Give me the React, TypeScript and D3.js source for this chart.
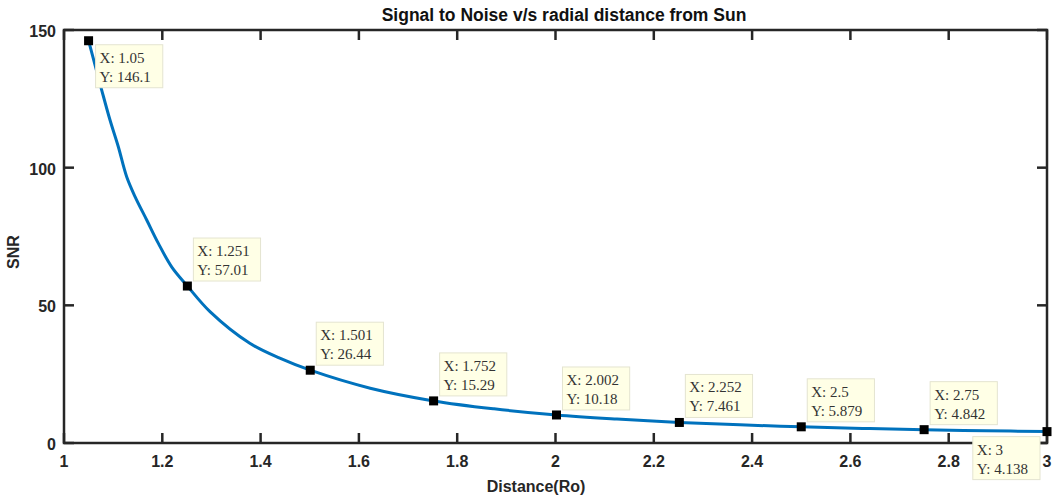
import React from "react";
import * as d3 from "d3";

const curveX = [1.05, 1.0767, 1.0936, 1.1105, 1.1275, 1.1445, 1.1683, 1.192, 1.219, 1.251, 1.297, 1.378, 1.439, 1.501, 1.623, 1.752, 1.875, 2.002, 2.125, 2.252, 2.375, 2.5, 2.625, 2.75, 2.875, 3.0];
const curveY = [146.1, 128.2, 117.3, 107.6, 96.7, 89.5, 81.0, 72.5, 64.0, 57.01, 47.7, 36.2, 30.8, 26.44, 19.9, 15.29, 12.4, 10.18, 8.7, 7.461, 6.6, 5.879, 5.3, 4.842, 4.45, 4.138];

const tipX = [1.05, 1.251, 1.501, 1.752, 2.002, 2.252, 2.5, 2.75, 3];
const tipXLabel = ["1.05", "1.251", "1.501", "1.752", "2.002", "2.252", "2.5", "2.75", "3"];
const tipY = [146.1, 57.01, 26.44, 15.29, 10.18, 7.461, 5.879, 4.842, 4.138];
const tipYLabel = ["146.1", "57.01", "26.44", "15.29", "10.18", "7.461", "5.879", "4.842", "4.138"];

const xTicks = [1, 1.2, 1.4, 1.6, 1.8, 2, 2.2, 2.4, 2.6, 2.8, 3];
const yTicks = [0, 50, 100, 150];

const title = "Signal to Noise v/s radial distance from Sun";
const xLabel = "Distance(Ro)";
const yLabel = "SNR";

export default function App() {
  const W = 1057, H = 497;
  const L = 64, R = 1047, T = 30, B = 443;
  const x = d3.scaleLinear().domain([1, 3]).range([L, R]);
  const y = d3.scaleLinear().domain([0, 150]).range([B, T]);
  const line = d3.line<number>().x((_, i) => x(curveX[i])).y((d) => y(d)).curve(d3.curveCatmullRom);
  const axisColor = "#262626";
  const tickFont = { fontFamily: "Liberation Sans, Arial, sans-serif", fontWeight: "bold" as const, fontSize: 16, fill: "#262626" };
  const tipFont = { fontFamily: "Liberation Serif, Times New Roman, serif", fontSize: 15, fill: "#333" };

  return (
    <svg width={W} height={H} style={{ position: "absolute", left: 0, top: 0, background: "#fff" }}>
      <text x={564} y={21} textAnchor="middle" {...tickFont} fontSize={17.5} fill="#111">{title}</text>
      {xTicks.map((t, i) => (
        <g key={"xt" + i}>
          <line x1={x(t)} x2={x(t)} y1={B} y2={B - 10} stroke={axisColor} strokeWidth={2.5} />
          <line x1={x(t)} x2={x(t)} y1={T} y2={T + 10} stroke={axisColor} strokeWidth={2.5} />
          <text x={x(t)} y={B + 24} textAnchor="middle" {...tickFont}>{String(t)}</text>
        </g>
      ))}
      {yTicks.map((t, i) => (
        <g key={"yt" + i}>
          <line x1={L} x2={L + 10} y1={y(t)} y2={y(t)} stroke={axisColor} strokeWidth={2.5} />
          <line x1={R} x2={R - 10} y1={y(t)} y2={y(t)} stroke={axisColor} strokeWidth={2.5} />
          <text x={L - 8} y={y(t) + 7} textAnchor="end" {...tickFont}>{String(t)}</text>
        </g>
      ))}
      <rect x={L} y={T} width={R - L} height={B - T} fill="none" stroke={axisColor} strokeWidth={2.5} />
      <text x={536} y={492} textAnchor="middle" {...tickFont}>{xLabel}</text>
      <text transform={`translate(19,252) rotate(-90)`} textAnchor="middle" {...tickFont}>{yLabel}</text>
      <path d={line(curveY) || ""} fill="none" stroke="#0072BD" strokeWidth={3} />
      {tipX.map((tx, i) => {
        const mx = x(tx), my = y(tipY[i]);
        const l1 = "X: " + tipXLabel[i];
        const l2 = "Y: " + tipYLabel[i];
        const w = Math.max(l1.length, l2.length) * 7.4 + 8;
        const h = 43;
        let bx = mx + 6, by = my - h - 5;
        if (i === 0) { bx = mx + 7; by = my + 4; }
        if (i === tipX.length - 1) { bx = mx - w - 7; by = my + 5; }
        return (
          <g key={"tip" + i}>
            <rect x={bx} y={by} width={w} height={h} fill="#FFFFE6" stroke="#e4e4d0" strokeWidth={1} />
            <text x={bx + 4} y={by + 18} {...tipFont}>{l1}</text>
            <text x={bx + 4} y={by + 37} {...tipFont}>{l2}</text>
            <rect x={mx - 4.5} y={my - 4.5} width={9} height={9} fill="#000" />
          </g>
        );
      })}
    </svg>
  );
}
